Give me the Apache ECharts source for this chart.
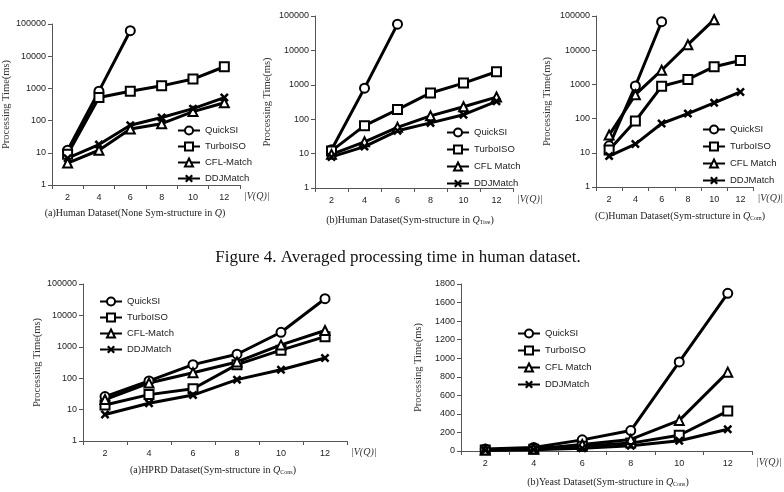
<!DOCTYPE html>
<html>
<head>
<meta charset="utf-8">
<script src="https://cdn.jsdelivr.net/npm/echarts@6/dist/echarts.min.js"></script>
<style>
body{margin:0;background:#fff;}
#main{width:784px;height:492px;}
</style>
</head>
<body>
<div id="main"></div>
<script>
var xCats = ['2','4','6','8','10','12'];
var namesA = ['QuickSI','TurboISO','CFL-Match','DDJMatch'];
var namesB = ['QuickSI','TurboISO','CFL Match','DDJMatch'];

// (a) Human, none sym-structure
var humNoneQuick = [12, 820, 62000, null, null, null];
var humNoneTurbo = [9, 520, 820, 1200, 1950, 4700];
var humNoneCfl   = [4.8, 12, 55, 80, 190, 360];
var humNoneDdj   = [6.8, 18, 72, 125, 235, 520];

// (b) Human, Q tree
var humTreeQuick = [13, 800, 58000, null, null, null];
var humTreeTurbo = [12, 65, 190, 580, 1120, 2400];
var humTreeCfl   = [9.5, 22, 58, 125, 230, 440];
var humTreeDdj   = [8, 16, 46, 78, 135, 330];

// (c) Human, Q com
var humComQuick = [16, 900, 68000, null, null, null];
var humComTurbo = [12, 85, 880, 1400, 3300, 5000];
var humComCfl   = [33, 500, 2600, 14500, 78000, null];
var humComDdj   = [8, 18, 72, 140, 290, 600];

// HPRD
var hprdQuick = [26, 82, 270, 580, 2900, 34000];
var hprdTurbo = [14, 30, 46, 270, 780, 2100];
var hprdCfl   = [21, 70, 150, 330, 1150, 3300];
var hprdDdj   = [7, 16, 29, 90, 185, 440];

// Yeast
var yeastQuick = [22, 38, 120, 220, 960, 1700];
var yeastTurbo = [12, 18, 50, 85, 170, 430];
var yeastCfl   = [10, 22, 70, 125, 330, 850];
var yeastDdj   = [8, 14, 30, 57, 110, 235];

var crossPath = 'path://M2,0 L5,3 L8,0 L10,2 L7,5 L10,8 L8,10 L5,7 L2,10 L0,8 L3,5 L0,2 Z';
var symbols = ['circle', 'rect', 'triangle', crossPath];

var panels = [
  {grid:{left:47, top:24, width:193, height:161}, log:true, names:namesA, gap:39,
   data:[humNoneQuick, humNoneTurbo, humNoneCfl, humNoneDdj], legend:{left:172, top:120}, pitch:16},
  {grid:{left:315, top:16, width:198, height:172}, log:true, names:namesB, gap:42,
   data:[humTreeQuick, humTreeTurbo, humTreeCfl, humTreeDdj], legend:{left:441, top:122}, pitch:17},
  {grid:{left:596, top:16, width:176, height:171}, log:true, names:namesB, gap:43,
   data:[humComQuick, humComTurbo, humComCfl, humComDdj], legend:{left:697, top:119}, pitch:17},
  {grid:{left:83, top:284, width:264, height:157}, log:true, names:namesA, gap:40,
   data:[hprdQuick, hprdTurbo, hprdCfl, hprdDdj], legend:{left:94, top:291}, pitch:16},
  {grid:{left:461, top:284, width:291, height:167}, log:false, names:namesB, gap:37,
   data:[yeastQuick, yeastTurbo, yeastCfl, yeastDdj], legend:{left:512, top:323}, pitch:17}
];

var grids = [], xAxes = [], yAxes = [], series = [], legends = [];
for (var p = 0; p < panels.length; p++) {
  var pn = panels[p];
  grids.push(pn.grid);
  xAxes.push({
    type:'category', gridIndex:p, data:xCats, boundaryGap:true,
    axisLine:{lineStyle:{color:'#555', width:1}},
    axisTick:{show:true, length:4, lineStyle:{color:'#555'}},
    axisLabel:{color:'#222', fontSize:9, fontFamily:'Liberation Sans', margin:8},
    name:'|V(Q)|', nameLocation:'end', nameGap:4,
    nameTextStyle:{fontFamily:'Liberation Serif', fontStyle:'italic', fontSize:10, color:'#333',
                   verticalAlign:'top', padding:[6,0,0,0]}
  });
  var ya = {
    gridIndex:p,
    name:'Processing Time(ms)', nameLocation:'middle', nameGap:pn.gap,
    nameTextStyle:{fontFamily:'Liberation Serif', fontSize:10.5, color:'#333'},
    axisLine:{show:true, lineStyle:{color:'#555', width:1}},
    axisTick:{show:true, length:4, lineStyle:{color:'#555'}},
    splitLine:{show:false},
    axisLabel:{color:'#222', fontSize:9, fontFamily:'Liberation Sans', margin:6,
               formatter:function(v){ return String(Math.round(v)); }}
  };
  if (pn.log) {
    ya.type = 'log'; ya.logBase = 10; ya.min = 1; ya.max = 100000;
  } else {
    ya.type = 'value'; ya.min = 0; ya.max = 1800; ya.interval = 200;
  }
  yAxes.push(ya);
  for (var s = 0; s < 4; s++) {
    series.push({
      type:'line', name:pn.names[s], xAxisIndex:p, yAxisIndex:p,
      data:pn.data[s], symbol:symbols[s], symbolSize: 9,
      showAllSymbol:true, connectNulls:false,
      lineStyle:{color:'#000', width:3},
      itemStyle:{color: s === 3 ? '#000' : '#fff', borderColor:'#000', borderWidth: s === 3 ? 0 : 2},
      emphasis:{disabled:true}
    });
  }
  legends.push({
    data:pn.names, orient:'vertical', left:pn.legend.left, top:pn.legend.top,
    itemWidth:22, itemHeight:10, itemGap:pn.pitch - 11,
    textStyle:{fontSize:9.5, fontFamily:'Liberation Sans', color:'#222', lineHeight:11},
    selectedMode:false
  });
}

function caption(x, y, text) {
  return {
    type:'text', x:x, y:y,
    style:{text:text, align:'center', verticalAlign:'middle', fill:'#222',
           fontFamily:'Liberation Serif', fontSize:10,
           rich:{i:{fontStyle:'italic', fontFamily:'Liberation Serif', fontSize:10},
                 s:{fontFamily:'Liberation Serif', fontSize:6, padding:[5,0,0,0]}}}
  };
}

var myChart = echarts.init(document.getElementById('main'));
var option = {
  animation:false,
  backgroundColor:'#fff',
  grid:grids, xAxis:xAxes, yAxis:yAxes, series:series, legend:legends,
  graphic:[
    caption(135, 213, '(a)Human Dataset(None Sym-structure in {i|Q})'),
    caption(410, 220, '(b)Human Dataset(Sym-structure in {i|Q}{s|Tree})'),
    caption(680, 216, '(C)Human Dataset(Sym-structure in {i|Q}{s|Com})'),
    caption(213, 470, '(a)HPRD Dataset(Sym-structure in {i|Q}{s|Cons})'),
    caption(608, 482, '(b)Yeast Dataset(Sym-structure in {i|Q}{s|Cons})'),
    {type:'text', x:398, y:258,
     style:{text:'Figure 4. Averaged processing time in human dataset.', align:'center',
            verticalAlign:'middle', fill:'#111', fontFamily:'Liberation Serif', fontSize:17}}
  ]
};
myChart.setOption(option);
</script>
</body>
</html>
